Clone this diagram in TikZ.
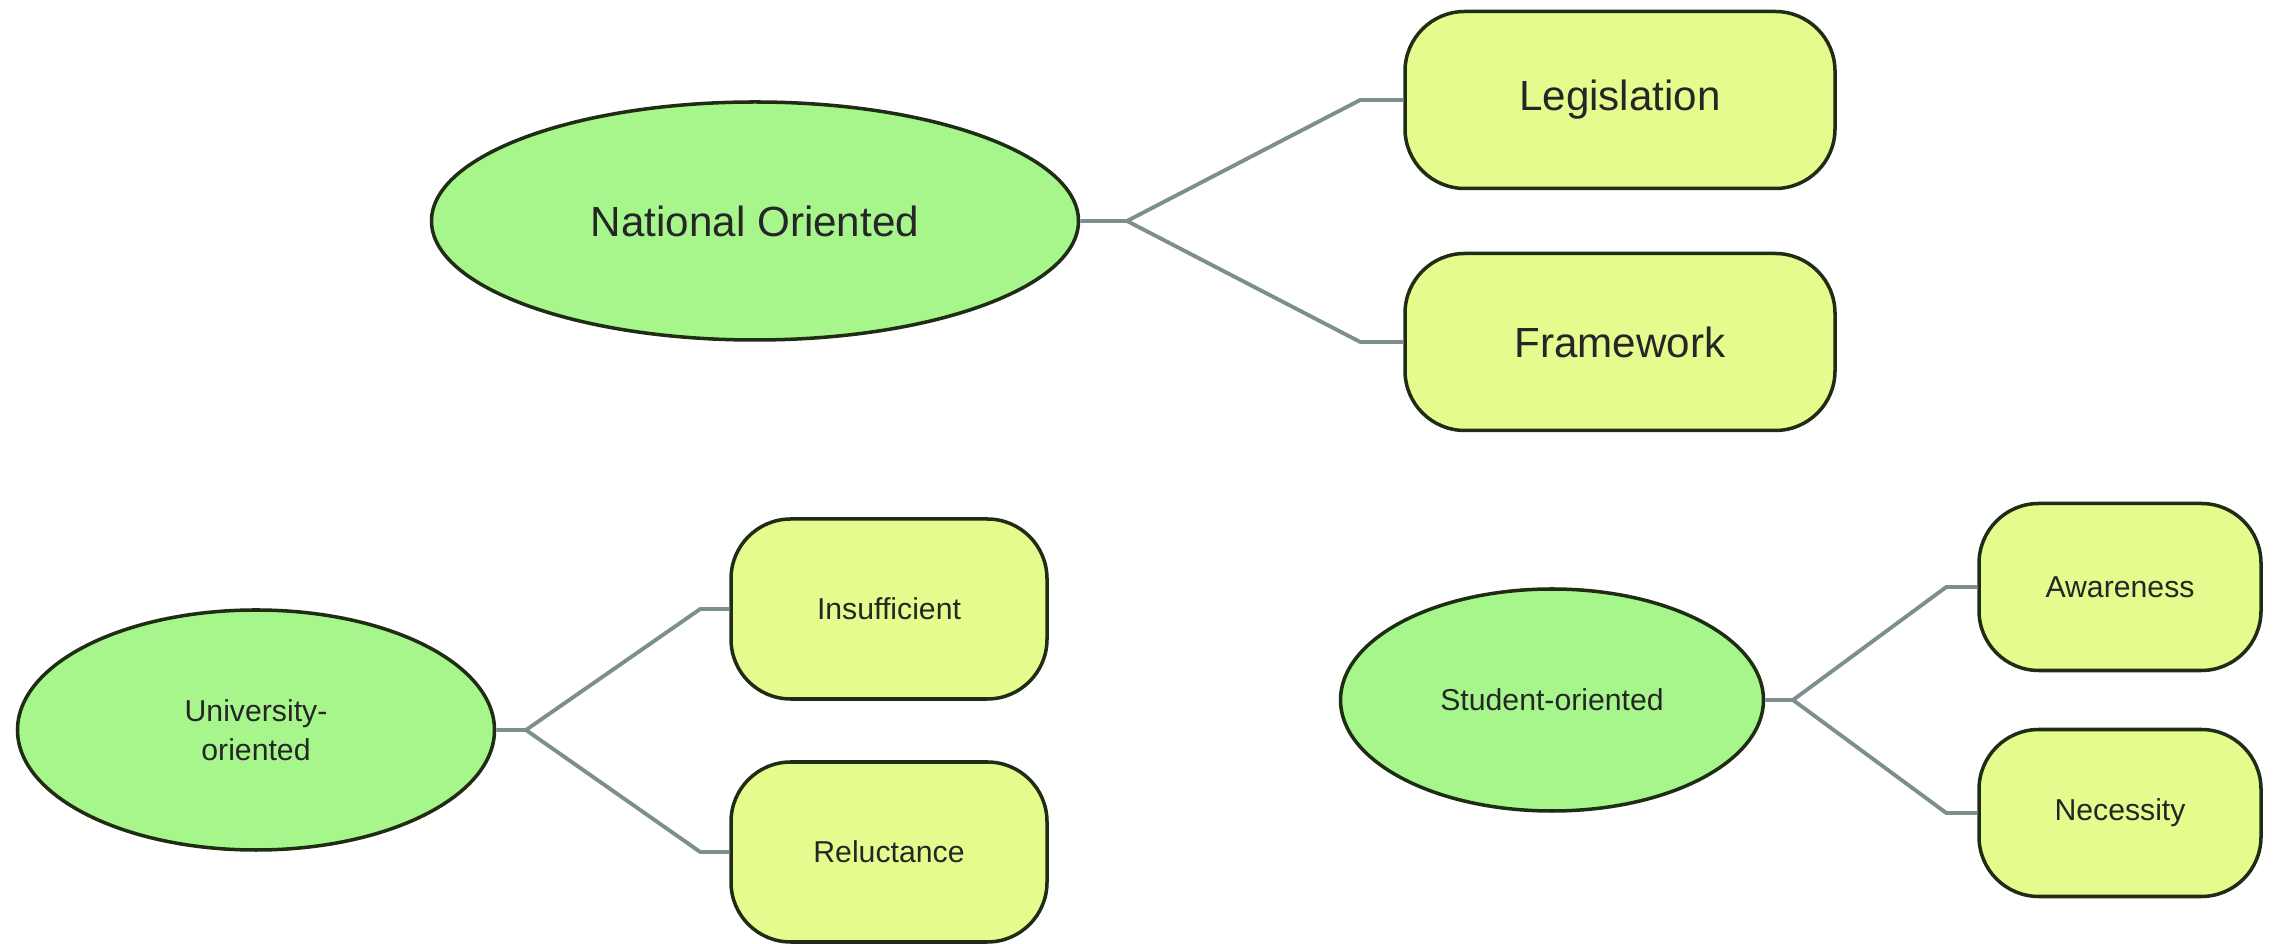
\documentclass[tikz,border=0pt]{standalone}
\usepackage{fontspec}
\setmainfont{Liberation Sans}
\usetikzlibrary{shapes.geometric, positioning, calc}

\definecolor{ovalgreen}{RGB}{166,246,140}
\definecolor{boxlime}{RGB}{230,251,142}
\definecolor{edgedark}{RGB}{30,45,20}
\definecolor{linkgray}{RGB}{125,142,142}

\begin{document}
\begin{tikzpicture}[
    % Main theme ovals
    theme/.style={ellipse, fill=ovalgreen, draw=edgedark, line width=1pt, inner sep=0pt, align=center, text=black!85},
    % Sub-theme boxes
    subbox/.style={rectangle, rounded corners=17pt, fill=boxlime, draw=edgedark, line width=1pt, inner sep=0pt, align=center, text=black!85},
    % Connector style
    link/.style={linkgray, line width=1.1pt, line join=round},
    bigfont/.style={font=\fontsize{12}{14}\selectfont},
    smallfont/.style={font=\fontsize{8.6}{11}\selectfont}
]
    \useasboundingbox (0,0) rectangle (22.8,9.44);

    % === NATIONAL ORIENTED ===
    \node[theme, bigfont, minimum width=6.47cm, minimum height=2.38cm] (nat) at (7.55,7.23) {National Oriented};
    \node[subbox, bigfont, minimum width=4.30cm, minimum height=1.77cm] (leg) at (16.20,8.44) {Legislation};
    \node[subbox, bigfont, minimum width=4.30cm, minimum height=1.77cm] (frame) at (16.20,6.02) {Framework};

    \coordinate (j1) at (11.27,7.23);
    \draw[link] (nat.east) -- (j1) -- ($(leg.west)+(-0.43,0)$) -- (leg.west);
    \draw[link] (j1) -- ($(frame.west)+(-0.43,0)$) -- (frame.west);

    % === UNIVERSITY-ORIENTED ===
    \node[theme, smallfont, minimum width=4.77cm, minimum height=2.40cm] (uni) at (2.56,2.14) {University-\\oriented};
    \node[subbox, smallfont, minimum width=3.16cm, minimum height=1.80cm] (insuf) at (8.89,3.35) {Insufficient};
    \node[subbox, smallfont, minimum width=3.16cm, minimum height=1.80cm] (reluc) at (8.89,0.92) {Reluctance};

    \coordinate (j2) at (5.26,2.14);
    \draw[link] (uni.east) -- (j2) -- ($(insuf.west)+(-0.29,0)$) -- (insuf.west);
    \draw[link] (j2) -- ($(reluc.west)+(-0.29,0)$) -- (reluc.west);

    % === STUDENT-ORIENTED ===
    \node[theme, smallfont, minimum width=4.23cm, minimum height=2.22cm] (stu) at (15.52,2.44) {Student-oriented};
    \node[subbox, smallfont, minimum width=2.82cm, minimum height=1.67cm] (aware) at (21.20,3.57) {Awareness};
    \node[subbox, smallfont, minimum width=2.82cm, minimum height=1.67cm] (need) at (21.20,1.31) {Necessity};

    \coordinate (j3) at (17.93,2.44);
    \draw[link] (stu.east) -- (j3) -- ($(aware.west)+(-0.31,0)$) -- (aware.west);
    \draw[link] (j3) -- ($(need.west)+(-0.31,0)$) -- (need.west);

\end{tikzpicture}
\end{document}
